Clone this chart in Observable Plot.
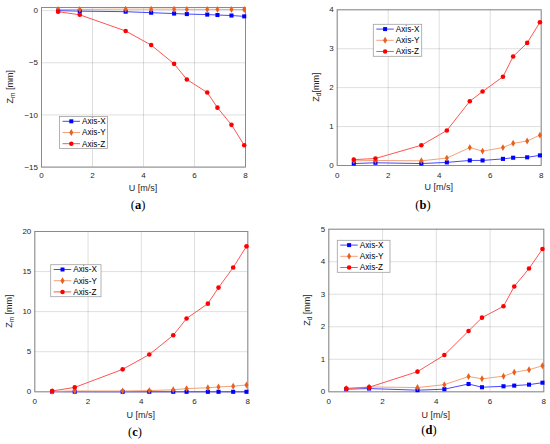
<!DOCTYPE html>
<html>
<head>
<meta charset="utf-8">
<script src="https://cdn.jsdelivr.net/npm/d3@7"></script>
<script src="https://cdn.jsdelivr.net/npm/@observablehq/plot@0.6"></script>
<style>
  html, body { margin: 0; padding: 0; background: #fff; }
  #wrap { position: relative; width: 550px; height: 444px; overflow: hidden; background: #fff; }
  #wrap svg { position: absolute; overflow: visible; }
</style>
</head>
<body>
<div id="wrap"></div>
<script>
// ---- data ----
const U = [0.65, 1.5, 3.3, 4.3, 5.2, 5.7, 6.5, 6.9, 7.45, 7.95];
const seriesNames = ["Axis-X", "Axis-Y", "Axis-Z"];
const xTicks = [0, 2, 4, 6, 8];

const aX = [0, -0.05, -0.1, -0.2, -0.28, -0.33, -0.38, -0.42, -0.47, -0.55];
const aY = [0.1, 0.12, 0.14, 0.14, 0.14, 0.12, 0.12, 0.12, 0.12, 0.1];
const aZ = [-0.1, -0.4, -1.95, -3.3, -5.1, -6.6, -7.85, -9.3, -10.95, -12.9];
const aTicks = [-15, -10, -5, 0];

const bX = [0.05, 0.07, 0.05, 0.08, 0.13, 0.13, 0.17, 0.2, 0.21, 0.26];
const bY = [0.12, 0.13, 0.12, 0.19, 0.46, 0.37, 0.46, 0.57, 0.63, 0.78];
const bZ = [0.15, 0.18, 0.52, 0.9, 1.65, 1.9, 2.28, 2.8, 3.15, 3.68];
const bTicks = [0, 1, 2, 3, 4];

const cX = [0.02, 0.01, 0, 0, 0, 0, 0, 0, 0, 0];
const cY = [0.05, 0.1, 0.1, 0.15, 0.25, 0.4, 0.5, 0.6, 0.7, 0.85];
const cZ = [0.1, 0.55, 2.8, 4.65, 7.05, 9.15, 11.0, 13.0, 15.5, 18.15];
const cTicks = [0, 5, 10, 15, 20];

const dX = [0.08, 0.1, 0.05, 0.08, 0.24, 0.14, 0.17, 0.19, 0.22, 0.28];
const dY = [0.1, 0.15, 0.13, 0.22, 0.47, 0.4, 0.48, 0.6, 0.68, 0.8];
const dZ = [0.1, 0.14, 0.62, 1.13, 1.87, 2.28, 2.63, 3.24, 3.79, 4.39];
const dTicks = [0, 1, 2, 3, 4, 5];

// ---- styles ----
const lineColor = {"Axis-X": "#4848ff", "Axis-Y": "#f4a27a", "Axis-Z": "#ff5454"};
const markColor = {"Axis-X": "#0000ff", "Axis-Y": "#e8601c", "Axis-Z": "#ff0000"};
const markSym = {"Axis-X": "square", "Axis-Y": "diamond", "Axis-Z": "circle"};
const d3Sym = {"Axis-X": d3.symbolSquare, "Axis-Y": d3.symbolDiamond, "Axis-Z": d3.symbolCircle};
const FONT = "'Liberation Sans', Arial, Helvetica, sans-serif";
const fmt = d => d < 0 ? "\u2212" + (-d) : String(d);

const panels = [
  {left: 0, top: 0, vals: [aX, aY, aZ], domain: [-15, 0.3], ticks: aTicks,
   m: [7, 30, 55.4, 41], ylab: ["Z", "m", " [mm]"], ylx: 10, xly: 187.7, pad: 5.6,
   tag: "(a)", tagx: 138, tagy: 205, leg: [59.5, 116.5, 48]},
  {left: 275, top: 0, vals: [bX, bY, bZ], domain: [0, 4], ticks: bTicks,
   m: [9.3, 9.3, 57, 61.7], ylab: ["Z", "d", "[mm]"], ylx: 41, xly: 186.7, pad: 7,
   tag: "(b)", tagx: 148, tagy: 205, leg: [98.3, 24.3, 48.4]},
  {left: 0, top: 222, vals: [cX, cY, cZ], domain: [0, 20], ticks: cTicks,
   m: [9, 27.7, 52.7, 34.3], ylab: ["Z", "m", " [mm]"], ylx: 9, xly: 192.7, pad: 6.8,
   tag: "(c)", tagx: 135, tagy: 210, leg: [50.7, 42.7, 50.3]},
  {left: 275, top: 222, vals: [dX, dY, dZ], domain: [0, 5], ticks: dTicks,
   m: [6.7, 6.7, 52.7, 53.3], ylab: ["Z", "d", " [mm]"], ylx: 32, xly: 192.7, pad: 6.8,
   tag: "(d)", tagx: 154, tagy: 208, leg: [62.3, 18.3, 52.7]}
];

const wrap = document.getElementById("wrap");

for (const p of panels) {
  const rows = [];
  seriesNames.forEach((s, i) => U.forEach((u, j) => rows.push({s, u, v: p.vals[i][j]})));
  const marks = [
    Plot.gridX(xTicks, {stroke: "#000", strokeOpacity: 0.13}),
    Plot.gridY(p.ticks, {stroke: "#000", strokeOpacity: 0.13}),
    Plot.frame({stroke: "#8a8a8a", strokeWidth: 1}),
    Plot.axisX({ticks: xTicks, tickSize: 0, tickPadding: p.pad, label: null, fill: "#262626", tickFormat: fmt}),
    Plot.axisY({ticks: p.ticks, tickSize: 0, tickPadding: 3.5, label: null, fill: "#262626", tickFormat: fmt})
  ];
  for (const s of seriesNames) {
    const data = rows.filter(r => r.s === s);
    marks.push(Plot.line(data, {x: "u", y: "v", stroke: lineColor[s], strokeWidth: 1}));
  }
  for (const s of seriesNames) {
    const data = rows.filter(r => r.s === s);
    marks.push(Plot.dot(data, {x: "u", y: "v", symbol: () => markSym[s], fill: markColor[s], stroke: "none",
      r: s === "Axis-Y" ? 2.1 : 2.3}));
  }
  const svg = Plot.plot({
    width: 275, height: 222,
    marginTop: p.m[0], marginRight: p.m[1], marginBottom: p.m[2], marginLeft: p.m[3],
    x: {domain: [0, 8]},
    y: {domain: p.domain},
    symbol: {type: "identity"},
    style: {fontFamily: FONT, fontSize: "8px", background: "transparent", overflow: "visible"},
    marks
  });
  svg.style.left = p.left + "px";
  svg.style.top = p.top + "px";
  wrap.appendChild(svg);

  const g = d3.select(svg).append("g").attr("text-anchor", "start");
  const cx = (p.m[3] + 275 - p.m[1]) / 2;
  const cy = (p.m[0] + 222 - p.m[2]) / 2;
  // x label
  g.append("text").attr("x", cx).attr("y", p.xly).attr("dy", "0.35em")
    .attr("text-anchor", "middle").attr("font-family", FONT).attr("font-size", 9)
    .attr("fill", "#262626").text("U [m/s]");
  // y label with subscript
  const yt = g.append("text").attr("transform", `translate(${p.ylx},${cy}) rotate(-90)`)
    .attr("dy", "0.35em").attr("text-anchor", "middle").attr("font-family", FONT)
    .attr("font-size", 9).attr("fill", "#262626");
  yt.append("tspan").text(p.ylab[0]);
  yt.append("tspan").attr("font-size", 6.5).attr("dy", "0.3em").text(p.ylab[1]);
  yt.append("tspan").attr("dy", "-0.25em").text(p.ylab[2]);
  // panel tag
  g.append("text").attr("x", p.tagx).attr("y", p.tagy).attr("dy", "0.35em")
    .attr("text-anchor", "middle").attr("font-family", "'Liberation Serif', 'DejaVu Serif', serif")
    .attr("font-size", 12.5).attr("fill", "#000")
    .html('(<tspan font-weight="bold">' + p.tag.slice(1, 2) + '</tspan>)');
  // legend
  const [lx, ly, lw] = p.leg;
  const lg = g.append("g").attr("transform", `translate(${lx},${ly})`);
  lg.append("rect").attr("x", 0).attr("y", 0).attr("width", lw).attr("height", 32)
    .attr("fill", "#fff").attr("stroke", "#a0a0a0").attr("stroke-width", 0.8);
  seriesNames.forEach((s, i) => {
    const yy = 4.8 + i * 11.2;
    lg.append("line").attr("x1", 3).attr("x2", 20.5).attr("y1", yy).attr("y2", yy)
      .attr("stroke", lineColor[s]).attr("stroke-width", 1);
    lg.append("path").attr("transform", `translate(11.8,${yy})`)
      .attr("d", d3.symbol(d3Sym[s], s === "Axis-Y" ? 14 : 16)()).attr("fill", markColor[s]);
    lg.append("text").attr("x", 22.5).attr("y", yy).attr("dy", "0.35em").attr("text-anchor", "start")
      .attr("font-family", FONT).attr("font-size", 8.2).attr("fill", "#000").text(s);
  });
}
</script>
</body>
</html>
